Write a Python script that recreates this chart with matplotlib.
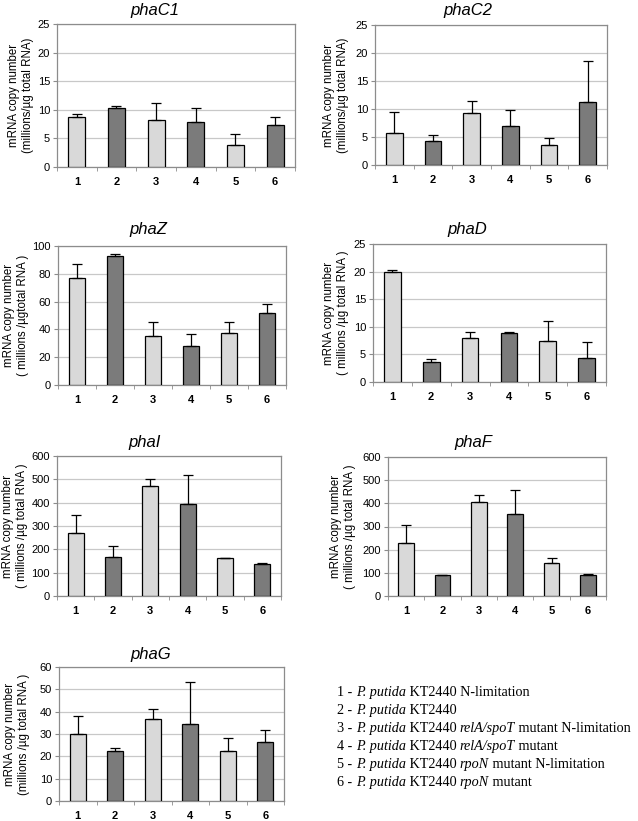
import matplotlib
matplotlib.use("Agg")
import matplotlib.pyplot as plt
import numpy as np

plt.rcParams['font.family'] = ['Liberation Sans', 'DejaVu Sans']

categories = ['1', '2', '3', '4', '5', '6']

phaC1_vals = [8.7, 10.3, 8.2, 7.8, 3.9, 7.3]
phaC1_err = [0.6, 0.4, 3.0, 2.5, 1.8, 1.4]
phaC2_vals = [5.8, 4.3, 9.3, 6.9, 3.6, 11.3]
phaC2_err = [3.6, 1.1, 2.2, 2.9, 1.2, 7.3]
phaZ_vals = [77, 93, 35.5, 28, 37.5, 51.5]
phaZ_err = [10, 1, 9.5, 9, 7.5, 6.5]
phaD_vals = [20.0, 3.7, 7.9, 8.9, 7.4, 4.4]
phaD_err = [0.3, 0.5, 1.2, 0.1, 3.7, 2.8]
phaI_vals = [268, 168, 473, 396, 163, 137]
phaI_err = [79, 47, 30, 124, 0, 3]
phaF_vals = [227, 90, 406, 355, 143, 90]
phaF_err = [80, 0, 30, 104, 22, 3]
phaG_vals = [30.0, 22.3, 36.8, 34.5, 22.4, 26.6]
phaG_err = [8.0, 1.4, 4.4, 18.6, 6.0, 5.0]

titles = ['phaC1', 'phaC2', 'phaZ', 'phaD', 'phaI', 'phaF', 'phaG']
ylabels = [
    'mRNA copy number\n(millions/µg total RNA)',
    'mRNA copy number\n(millions/µg total RNA)',
    'mRNA copy number\n( millions /µgtotal RNA )',
    'mRNA copy number\n( millions /µg total RNA )',
    'mRNA copy number\n( millions /µg total RNA )',
    'mRNA copy number\n( millions /µg total RNA )',
    'mRNA copy number\n(millions /µg total RNA )',
]
ymaxes = [25, 25, 100, 25, 600, 600, 60]
ysteps = [5, 5, 20, 5, 100, 100, 10]
values = [phaC1_vals, phaC2_vals, phaZ_vals, phaD_vals, phaI_vals, phaF_vals, phaG_vals]
errors = [phaC1_err, phaC2_err, phaZ_err, phaD_err, phaI_err, phaF_err, phaG_err]

# legend lines as (text, italic) pieces
legend_lines = [
    [('1 - ', False), ('P. putida', True), (' KT2440 N-limitation', False)],
    [('2 - ', False), ('P. putida', True), (' KT2440', False)],
    [('3 - ', False), ('P. putida', True), (' KT2440 ', False), ('relA/spoT', True), (' mutant N-limitation', False)],
    [('4 - ', False), ('P. putida', True), (' KT2440 ', False), ('relA/spoT', True), (' mutant', False)],
    [('5 - ', False), ('P. putida', True), (' KT2440 ', False), ('rpoN', True), (' mutant N-limitation', False)],
    [('6 - ', False), ('P. putida', True), (' KT2440 ', False), ('rpoN', True), (' mutant', False)],
]

W, H = 638, 821
fig = plt.figure(figsize=(W / 100, H / 100), dpi=100)

boxes = [(57, 295, 24, 167), (375, 607, 25, 165), (58, 286, 246, 385),
         (373, 606, 244, 382), (57, 281, 456, 596), (388, 606, 457, 596),
         (59, 284, 667, 801)]
title_pos = [(155, 10), (468, 10), (148, 229), (467, 229), (145, 442), (473, 442), (151, 655)]
ylab_x = [21, 336, 16, 336, 15, 343, 17]

light = '#d9d9d9'
dark = '#7b7b7b'
frame = '#8c8c8c'
gridc = '#c8c8c8'

for i in range(7):
    l, r, t, b = boxes[i]
    ax = fig.add_axes([l / W, 1 - b / H, (r - l) / W, (b - t) / H])
    x = np.arange(1, 7)
    colors = [light if k % 2 == 0 else dark for k in range(6)]
    ax.bar(x, values[i], width=0.43, color=colors, edgecolor='black', linewidth=0.9, zorder=3)
    ax.errorbar(x, values[i], yerr=[np.zeros(6), errors[i]], fmt='none', ecolor='black',
                elinewidth=0.9, capsize=3.5, capthick=0.9, zorder=4)
    ax.set_xlim(0.5, 6.5)
    ax.set_ylim(0, ymaxes[i])
    ax.set_yticks(np.arange(0, ymaxes[i] + 0.1, ysteps[i]))
    ax.yaxis.grid(True, color=gridc, linewidth=0.9, zorder=0)
    ax.set_axisbelow(True)
    ax.set_xticks(x)
    ax.set_xticklabels(categories, fontweight='bold', fontsize=8)
    ax.set_xticks(np.arange(0.5, 7, 1), minor=True)
    ax.tick_params(axis='x', which='major', length=0, pad=7)
    ax.tick_params(axis='x', which='minor', length=3, color=frame, direction='out')
    ax.tick_params(axis='y', length=3, color=frame, labelsize=8, pad=2)
    for s in ax.spines.values():
        s.set_color(frame)
        s.set_linewidth(0.9)
    tx, ty = title_pos[i]
    fig.text(tx / W, 1 - ty / H, titles[i], fontsize=12, style='italic', ha='center', va='center')
    fig.text(ylab_x[i] / W, 1 - ((t + b) / 2) / H, ylabels[i], rotation=90, fontsize=8.3,
             ha='center', va='center', linespacing=1.15, multialignment='center')

renderer = fig.canvas.get_renderer()
leg_y = [696, 714, 732, 750, 768, 786]
for pieces, yy in zip(legend_lines, leg_y):
    xpx = 337.0
    for txt, it in pieces:
        st = 'italic' if it else 'normal'
        fig.text(xpx / W, 1 - yy / H, txt, fontsize=10.2, family='Liberation Serif',
                 style=st, ha='left', va='baseline')
        probe = fig.text(0, 0, txt.replace(' ', '\u00a0') + '|', fontsize=10.2,
                         family='Liberation Serif', style=st)
        bar = fig.text(0, 0, '|', fontsize=10.2, family='Liberation Serif', style=st)
        wpx = probe.get_window_extent(renderer).width - bar.get_window_extent(renderer).width
        probe.remove()
        bar.remove()
        xpx += wpx

fig.savefig('out.png', dpi=100)
